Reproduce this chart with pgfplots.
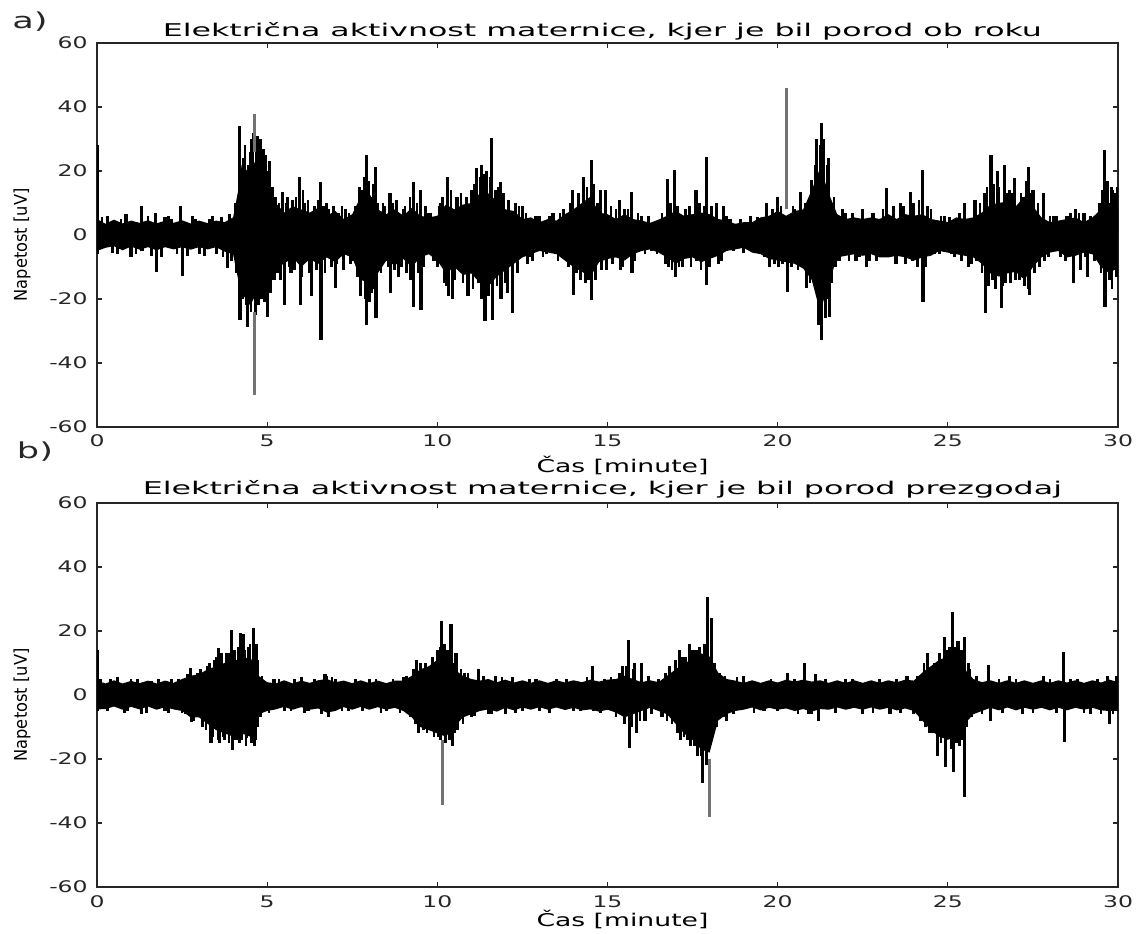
\documentclass[border=0pt]{standalone}
\usepackage{fontspec}
\setmainfont{DejaVu Sans}
\usepackage{graphicx}
\usepackage{pgfplots}
\pgfplotsset{compat=1.18}
\usepackage{pgfplotstable}
\usepgfplotslibrary{fillbetween}

% envelope of the dense part of the signal (x in minutes, uV)
\pgfplotstableread{
x up lo
0 5 -5
0.25 3.5 -4
0.5 4.8 -3.5
0.75 3.6 -4.8
1 4.5 -3.6
1.25 3.8 -4.6
1.5 4.6 -3.8
1.75 3.6 -4.8
2 4.5 -3.8
2.25 3.8 -4.5
2.5 4.6 -3.8
2.75 3.6 -4.6
3 4.5 -3.8
3.25 3.7 -4.5
3.5 4.5 -3.8
3.75 4 -5.2
4 5.5 -6
4.15 14 -14
4.25 22 -18
4.5 19 -22
4.75 26 -17
5 18 -16
5.25 10 -10
5.5 7 -9
5.75 9 -7
6 8 -10
6.25 7 -7.5
6.5 8.5 -9
6.75 6 -7
7 7.5 -8.5
7.25 5 -6
7.5 6.5 -7
7.75 12 -14
8 13 -15
8.25 8 -12
8.5 6.5 -8
8.75 8 -9.5
9 6 -7.5
9.25 8.5 -10
9.5 6 -7
9.75 5.5 -6
10 6 -8
10.25 9.5 -12
10.5 8 -10
10.75 9.5 -12.5
11 10 -12
11.25 13 -15
11.5 13 -16
11.75 10.5 -13
12 8 -11
12.25 7.5 -9
12.5 5 -7
12.75 5.5 -6
13 4 -5
13.25 5 -5.5
13.5 4.5 -6
13.75 6.5 -8
14 8 -10
14.25 10 -11.5
14.5 12 -13
14.75 7 -8.5
15 6.5 -7.5
15.25 5 -7
15.5 6.5 -8
15.75 5 -6
16 4.5 -5
16.25 3.8 -4.5
16.5 4.8 -5.5
16.75 6 -7
17 7.5 -9
17.25 6 -7.5
17.5 6.5 -7
17.75 7 -8.5
18 6.5 -7.5
18.25 5 -6.5
18.5 4.5 -5
18.75 3.5 -4.5
19 4 -4
19.25 4 -5.5
19.5 5.5 -6
19.75 6 -7.5
20 7.5 -8
20.25 6 -8.5
20.5 7.5 -9
20.75 8 -10.5
21 14 -14
21.25 21 -24
21.5 13 -15
21.75 6.5 -7
22 5 -6.5
22.25 5.5 -6
22.5 5 -6.5
22.75 5.5 -6
23 5 -7
23.25 6.5 -7
23.5 5 -6.5
23.75 6.5 -7
24 6 -8
24.25 6.5 -7
24.5 5 -6.5
24.75 4.5 -5
25 4 -5.5
25.25 5.5 -6
25.5 5 -6.5
25.75 5.5 -7
26 7 -9
26.25 9.5 -12
26.5 10 -13
26.75 10.5 -12
27 9 -11.5
27.25 12 -14
27.5 9 -10
27.75 5.5 -7
28 4 -5.5
28.25 4.5 -5
28.5 5 -7
28.75 5.5 -6.5
29 4 -5.5
29.25 5.5 -6
29.5 8 -10
29.75 10 -12
30 8 -10
}\bandA

% single excursions beyond the envelope
\pgfplotstableread{
x y
0.0 28
0.02 -6
0.3 6
0.6 -6
0.85 6.5
1.0 -7
1.3 9
1.32 -5
1.73 7
1.75 -11.5
2.0 5.5
2.2 5
2.45 9
2.5 -12.8
2.8 6
3.0 -6
3.3 5
3.5 -6
3.83 -10.4
3.9 6.5
4.18 34
4.2 -26.5
4.3 24
4.42 -28.9
4.45 22
4.55 30
4.7 28
4.75 -22
4.8 30
4.85 -20
4.95 25
5.0 -25.5
5.08 23
5.1 -18
5.2 -14
5.45 13.5
5.5 -22
5.6 12
5.7 -12
5.95 18
5.97 -22
6.1 10
6.3 -19
6.4 9
6.57 16.7
6.58 -32.8
6.8 8
6.9 -10
7.0 -16.7
7.1 7
7.3 8
7.5 -8
7.67 -13
7.8 14
7.92 25
7.93 -28
8.05 -18
8.1 12
8.19 21.4
8.2 -26
8.3 -10
8.45 9
8.61 13
8.62 -18
8.8 11
8.85 -13
9.0 8
9.1 -12
9.3 16.7
9.31 -22.4
9.5 14
9.52 -23.4
9.7 7
9.9 -8
10.1 10
10.2 -15
10.3 18
10.32 -19
10.45 -20
10.6 12
10.9 -19
11.0 14
11.15 21
11.2 -15
11.3 22
11.4 -27
11.45 20
11.6 30.2
11.62 -26.6
11.7 14
11.85 16.7
11.87 -20
12.05 -18
12.2 -24.5
12.3 10
12.5 9
12.7 -7
12.9 6
13.2 -6
13.4 7
13.7 8
13.98 14
14.0 -18.8
14.1 -12
14.3 18
14.45 -14
14.52 23.4
14.54 -20.3
14.8 14
14.82 -11
14.95 14
14.97 -11
15.35 11
15.37 -11
15.5 8
15.7 13.5
15.72 -12
16.0 6
16.3 -5
16.77 17.4
16.8 -10
16.97 20.3
16.99 -13
17.2 -10
17.3 8
17.6 14
17.62 -8
17.9 24.5
17.92 -15.6
18.2 10
18.25 -9
18.4 9
18.6 5
19.2 6
19.5 -6
19.67 10
19.75 -10
20.0 12
20.02 -10
20.28 -17.7
20.5 8
20.66 13.5
20.7 -9
20.85 -16.7
21.0 17.2
21.05 -13
21.15 30
21.2 -28
21.28 35
21.3 -32.8
21.35 30
21.4 -26
21.5 24
21.52 -25.5
21.6 10
21.8 -8
22.0 7
22.3 -8
22.5 8
22.6 -10
22.8 7
23.0 -6
23.2 14.6
23.25 -7
23.5 -9
23.6 10
23.9 13.5
23.95 -8
24.25 20.3
24.27 -20.8
24.4 9
24.6 -6
24.9 6
25.2 -7
25.5 10
25.6 -10
25.8 11
25.85 -8
26.07 13
26.1 -24.5
26.27 25
26.3 -14
26.45 20
26.57 -22.9
26.67 21.9
26.7 -15
26.8 14
26.97 17.7
27.0 -14
27.2 12
27.25 -16
27.38 21.4
27.4 -18.8
27.5 14
27.8 13
27.85 -8
28.1 6
28.3 -7
28.5 6
28.7 -15
28.75 8
28.9 -11
29.0 7
29.1 -13
29.4 5
29.6 26.6
29.62 -22.4
29.7 17
29.75 -14
29.85 14
29.9 -11
29.98 15
}\spkA

% smaller excursions that roughen the edge of the dense part
\pgfplotstableread{
x y
0.15 5.5
0.45 -5.5
0.7 5
1.15 -6
1.5 6
1.6 -6.5
1.9 -7
2.1 6
2.35 -6
2.65 -6.5
2.9 5
3.15 -6.5
3.4 6
3.65 5.5
3.7 -7
3.95 -8
4.05 10
4.1 -12
4.22 20
4.27 -20
4.35 28
4.38 -22
4.5 26
4.52 -24
4.58 32
4.66 -25
4.72 31
4.78 -19
4.9 27
4.92 -21
5.03 20
5.15 15
5.25 12
5.3 -12
5.35 10
5.4 -14
5.55 10
5.65 -10
5.75 11
5.8 -11
5.85 12
6.0 -13
6.05 14
6.2 11
6.25 -12
6.45 -11
6.5 11
6.65 9
6.7 -12
6.75 10
6.95 9
7.05 -9
7.2 9
7.25 -11
7.4 7
7.45 -9
7.6 9
7.62 -9
7.72 15
7.75 -19
7.85 18
7.88 -20
7.98 17
8.0 -21
8.12 16
8.15 -17
8.25 10
8.35 -12
8.4 10
8.55 -10
8.7 10
8.75 -11
8.95 -10
9.05 9
9.2 12
9.22 -14
9.4 10
9.45 -12
9.6 -10
9.65 9
9.8 7
10.0 -10
10.05 9
10.15 12
10.25 -16
10.4 14
10.5 -14
10.55 12
10.7 13
10.75 -15
10.85 12
11.05 -17
11.1 16
11.25 18
11.3 -20
11.35 19
11.5 -19
11.55 18
11.75 -16
11.8 15
11.95 13
12.0 -15
12.1 11
12.35 -12
12.4 9
12.6 7
12.65 -9
12.8 -8
13.0 6
13.1 -7
13.3 6
13.55 -8
13.6 7
13.85 -10
13.9 10
14.15 13
14.2 -14
14.35 -15
14.4 15
14.6 16
14.65 -14
14.7 10
15.1 9
15.15 -9
15.25 8
15.45 -10
15.6 8
15.8 -8
15.9 7
16.1 -6
16.2 6
16.45 -6
16.6 7
16.7 -9
16.85 10
16.9 -11
17.05 9
17.1 -10
17.4 9
17.45 -10
17.7 10
17.75 -11
17.85 9
18.0 -10
18.05 9
18.35 -8
18.5 6
18.7 -5
18.9 5
19.0 -5.5
19.4 5.5
19.6 -7
19.85 8
19.9 -9
20.1 9
20.15 -9
20.4 -10
20.45 9
20.6 -11
20.8 10
20.95 -15
21.1 22
21.22 -24
21.25 28
21.45 22
21.48 -20
21.58 -15
21.65 12
21.7 -10
21.9 8
22.1 -8
22.2 7
22.4 -7
22.7 -8
22.9 -8
23.1 8
23.4 9
23.45 -9
23.7 9
23.75 -9
24.0 10
24.1 -10
24.15 11
24.35 -10
24.5 8
24.75 -6
24.8 6
25.05 5.5
25.1 -6
25.35 7
25.4 -8
25.7 -9
25.95 10
26.0 -12
26.15 15
26.2 -16
26.35 16
26.4 -17
26.5 15
26.6 -16
26.75 13
26.85 -15
26.9 13
27.1 -14
27.15 13
27.3 17
27.35 -17
27.45 13
27.55 -12
27.65 10
27.7 -10
27.95 -7
28.0 6
28.2 6
28.45 -8
28.6 7
28.85 7
29.05 -7
29.2 6
29.3 -8
29.45 10
29.5 -12
29.55 14
29.65 -16
29.8 15
29.82 -17
29.92 13
29.95 -13
}\smlA

\pgfplotstableread{
x up lo
0 4.5 -4.5
0.25 3.6 -4.4
0.5 4.6 -3.6
0.75 3.6 -4.6
1 4.4 -3.7
1.25 3.7 -4.5
1.5 4.5 -3.6
1.75 3.6 -4.6
2 4.5 -3.8
2.25 3.8 -4.5
2.5 5 -5
2.75 6 -7
3 6.5 -7
3.25 8 -9
3.5 9 -11
3.75 10 -12
4 11 -13
4.25 11 -12
4.5 12 -13
4.75 6 -6
5 4 -5
5.25 3.6 -4.5
5.5 4.6 -3.7
5.75 3.6 -4.6
6 4.5 -3.8
6.25 3.8 -4.6
6.5 4.6 -4.2
6.75 5 -5.5
7 4 -5
7.25 4.5 -3.8
7.5 3.7 -4.6
7.75 4.6 -3.7
8 3.7 -4.6
8.25 4.5 -3.8
8.5 3.7 -4.6
8.75 4.5 -4
9 4.5 -5
9.25 6 -7
9.5 8 -10
9.75 9 -11
10 11 -12
10.25 12 -13
10.5 8 -10
10.75 6 -7
11 5 -6
11.25 4.5 -5
11.5 5 -4.5
11.75 4 -5.2
12 4.8 -4
12.25 3.9 -4.8
12.5 4.6 -3.9
12.75 3.8 -4.6
13 4.6 -3.8
13.25 3.8 -4.6
13.5 4.6 -3.9
13.75 3.9 -4.7
14 4.6 -4
14.25 4 -4.8
14.5 4.8 -4.5
14.75 4.2 -5.2
15 4.8 -4.6
15.25 5 -5.5
15.5 6 -7
15.75 5 -6
16 4 -5
16.25 4.6 -4
16.5 4 -5
16.75 6 -6
17 8 -9
17.25 10 -12
17.5 11 -14
17.75 13 -17
18 12 -18
18.25 7 -8
18.5 5 -6
18.75 4.5 -5
19 3.8 -4.6
19.25 4.6 -3.9
19.5 3.8 -4.8
19.75 4.6 -4
20 3.9 -4.6
20.25 4.8 -4.2
20.5 4.2 -5
20.75 4.8 -4.4
21 4.2 -5.2
21.25 4.6 -4.4
21.5 3.8 -4.6
21.75 4.6 -3.9
22 3.8 -4.6
22.25 4.6 -4
22.5 3.8 -4.6
22.75 4.6 -3.9
23 3.8 -4.6
23.25 4.6 -4
23.5 4 -4.8
23.75 4.8 -4.2
24 4.5 -5
24.25 7 -8
24.5 9 -11
24.75 11 -13
25 12 -14
25.25 11 -13
25.5 8 -9
25.75 5 -6
26 4 -5
26.25 4.6 -4
26.5 3.8 -4.8
26.75 4.6 -3.9
27 3.8 -4.8
27.25 4.6 -4
27.5 3.8 -4.6
27.75 4.6 -4
28 3.8 -4.8
28.25 4.6 -4
28.5 3.9 -4.8
28.75 4.6 -4
29 3.8 -4.6
29.25 4.6 -4
29.5 3.9 -4.8
29.75 4.8 -5
30 4 -5
}\bandB

\pgfplotstableread{
x y
0.0 14
0.02 -5
0.4 5
0.8 -5.5
1.2 5
1.3 -6
1.6 4.5
2.0 -5
2.2 5
2.6 -6
2.75 8.3
2.77 -8.3
3.0 6
3.1 -10
3.3 10
3.35 -15
3.5 12
3.58 14.6
3.6 -15
3.75 -14
3.85 13
3.95 20.3
3.97 -17.2
4.05 14
4.1 -14
4.22 19.3
4.25 -14
4.3 19
4.4 -13.5
4.45 15
4.55 -15
4.6 20.8
4.62 -16
4.67 16
4.7 -10
5.2 5
5.5 -5
6.0 5.5
6.2 -5
6.7 6.5
6.8 -7
7.0 5
7.4 -5
8.0 5
8.5 -5
9.0 5.5
9.4 11
9.45 -12
9.55 8
9.6 -11
9.8 9
10.0 14
10.05 -13
10.12 23
10.2 16
10.25 -15
10.4 22.2
10.45 -16
10.55 13
10.6 -11
10.8 7
11.0 -7
11.2 8
11.5 -6
11.7 6
12.0 -6
12.2 5.5
12.5 -5
12.9 5
13.3 -5.5
13.8 5
14.2 -5
14.57 9
14.6 -5
14.9 5
15.45 9
15.62 17.2
15.64 -16.7
15.8 10
15.85 -12
16.0 10
16.1 -8
16.5 5
16.6 -7
16.82 9
17.12 14
17.14 -14
17.3 12
17.4 16
17.45 -16
17.6 14
17.65 -19
17.8 -27.6
17.85 16
17.95 30.7
18.05 24
18.1 -12
18.3 7
18.5 -8
19.0 6
19.6 -5
20.3 7
20.8 9.9
20.9 -6
21.1 6.5
21.2 -8
22.0 5
22.5 -6
23.0 5
23.3 -6
23.8 6
24.0 -6
24.4 13
24.45 -12
24.6 10
24.7 -19
24.9 18
24.92 -22.4
25.0 14
25.14 26
25.16 -24
25.3 17
25.35 -16
25.48 18
25.5 -31.8
25.6 10
26.2 9.4
26.25 -8
26.8 6
27.2 -6
27.8 6
28.4 13.5
28.42 -14.6
28.8 5
29.2 -6
29.7 6
29.75 -9
29.95 6
}\spkB

\pgfplotstableread{
x y
0.1 5
0.3 -5
0.6 5.5
0.9 -5
1.0 5
1.45 -5.5
1.8 5
2.1 -5.5
2.4 5
2.5 -5.5
2.65 6.5
2.85 -8
2.95 7
3.05 8
3.2 -11
3.25 9
3.4 -13
3.45 11
3.55 -14
3.65 13
3.7 -13
3.8 13
3.88 -15
4.0 14
4.02 -14
4.15 15
4.18 -15
4.35 14
4.38 -16
4.5 16
4.52 -14
4.65 -14
4.72 11
4.8 -7
4.85 6
5.05 -5.5
5.35 5
5.7 -5
5.8 5
6.1 -5.5
6.4 5
6.6 -6
6.75 6
6.9 5.5
7.2 -5
7.6 5
7.8 -5
8.2 5
8.35 -5.5
8.7 5
8.9 -5.5
9.1 6
9.2 -7
9.3 8
9.35 -9
9.5 10
9.52 -10
9.65 10
9.7 -12
9.85 12
9.9 -13
10.08 15
10.1 -14
10.3 14
10.35 -14
10.5 10
10.52 -12
10.7 8
10.75 -9
10.9 7
11.1 -6.5
11.35 6
11.6 -6
11.9 5.5
12.3 -5.5
12.7 5
13.0 -5
13.5 5
14.0 -5
14.4 5.5
14.8 -5.5
15.1 5.5
15.25 -7
15.35 7
15.5 -9
15.55 9
15.7 -10
15.75 8
15.95 -8
16.2 6
16.3 -6
16.7 7
16.75 -8
16.9 -9
17.0 11
17.05 -12
17.2 12
17.25 -13
17.35 -14
17.5 14
17.55 -16
17.7 15
17.75 -19
17.9 -22
17.92 18
18.15 10
18.2 -10
18.4 -7
18.45 6
18.7 -6
18.8 5.5
19.3 -5.5
19.8 5
20.0 -5
20.5 5
20.6 -6
21.0 -6
21.4 5
21.7 -5.5
22.2 5
22.8 -5.5
23.5 5
23.6 -5.5
24.1 6
24.2 -8
24.3 10
24.35 -10
24.55 -12
24.75 13
24.8 -15
24.95 -16
25.05 15
25.1 -17
25.2 15
25.25 -15
25.4 14
25.42 -14
25.55 -10
25.65 8
25.7 -7
25.85 6
26.0 -6
26.5 5
26.6 -5.5
27.0 5
27.5 -5.5
28.0 5
28.2 -5.5
28.6 5
29.0 -5.5
29.4 5
29.5 -6
29.85 -6
}\smlB

\pgfplotsset{
  emg/.style={
    scale only axis, width=20.42cm, height=7.68cm,
    xmin=0, xmax=30, ymin=-60, ymax=60,
    xtick={0,5,...,30}, ytick={-60,-40,...,60},
    axis line style={line width=0.9pt, black!85},
    every tick/.style={black!85, line width=0.6pt},
    major tick length=0.1cm, tick align=inside,
    /pgf/number format/assume math mode=true,
    tick label style={font=\fontsize{9.1}{10}\selectfont, text=black!85},
    xticklabel={\scalebox{1.47}[1]{\pgfmathprintnumber{\tick}}},
    yticklabel={\scalebox{1.47}[1]{\pgfmathprintnumber{\tick}}},
    xticklabel style={anchor=base, yshift=-0.4cm, inner sep=0pt},
    yticklabel style={anchor=east, xshift=-0.18cm, inner sep=0pt},
    ylabel={\resizebox{2.26cm}{\height}{Napetost [uV]}},
    ylabel style={font=\fontsize{10}{12}\selectfont, at={(axis description cs:-0.0735,0.474)}, anchor=center, inner sep=0pt},
    xlabel={\resizebox{3.44cm}{\height}{Čas [minute]}},
    xlabel style={font=\fontsize{10}{12}\selectfont, at={(axis description cs:0.5147,0)}, anchor=base, inner sep=0pt},
    title style={font=\fontsize{10}{12}\selectfont, at={(axis description cs:0.495,1)}, anchor=base, inner sep=0pt},
  },
  spk/.style={ycomb, black, line width=1.8pt},
  sml/.style={ycomb, black, line width=1.5pt},
  gry/.style={black!55, line width=1.8pt},
}

\begin{document}
\begin{tikzpicture}
\begin{axis}[emg, at={(0,0)}, anchor=south west,
  title={\resizebox{17.58cm}{\height}{Električna aktivnost maternice, kjer je bil porod ob roku}},
  title style={yshift=-0.08cm}, xlabel style={yshift=-0.92cm}]
\addplot[name path=ua, draw=none] table[x=x, y=up]{\bandA};
\addplot[name path=la, draw=none] table[x=x, y=lo]{\bandA};
\addplot[black] fill between[of=ua and la];
\addplot[sml] table[x=x, y=y]{\smlA};
\addplot[spk] table[x=x, y=y]{\spkA};
% the tallest single excursions look grey (thin line, blurred)
\addplot[gry] coordinates {(4.62,26) (4.62,37.8)};
\addplot[gry] coordinates {(4.63,-24) (4.63,-50)};
\addplot[gry] coordinates {(20.27,8) (20.27,45.8)};
\end{axis}

\begin{axis}[emg, at={(0,-9.2cm)}, anchor=south west,
  title={\resizebox{18.38cm}{\height}{Električna aktivnost maternice, kjer je bil porod prezgodaj}},
  title style={yshift=-0.04cm}, xlabel style={yshift=-0.78cm}]
\addplot[name path=ub, draw=none] table[x=x, y=up]{\bandB};
\addplot[name path=lb, draw=none] table[x=x, y=lo]{\bandB};
\addplot[black] fill between[of=ub and lb];
\addplot[sml] table[x=x, y=y]{\smlB};
\addplot[spk] table[x=x, y=y]{\spkB};
\addplot[gry] coordinates {(10.15,-14) (10.15,-34.4)};
\addplot[gry] coordinates {(18.0,-20) (18.0,-38)};
\end{axis}

\node[font=\fontsize{12.5}{14}\selectfont, inner sep=0pt, text=black!85] at (-1.34,8.1) {\scalebox{1.6}[1]{a)}};
\node[font=\fontsize{12.5}{14}\selectfont, inner sep=0pt, text=black!85] at (-1.24,-0.5) {\scalebox{1.6}[1]{b)}};
\pgfresetboundingbox
\useasboundingbox (-1.94,-10.14) rectangle (20.86,8.54);
\end{tikzpicture}
\end{document}
